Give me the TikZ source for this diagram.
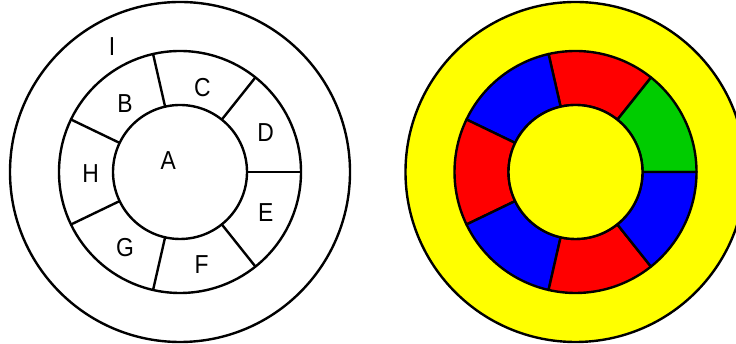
\documentclass[tikz,border=0pt]{standalone}
\usepackage{fontspec}
\setmainfont{Liberation Sans}
\usetikzlibrary{calc}
\definecolor{cgreen}{RGB}{0,204,0}
\definecolor{cred}{RGB}{255,0,0}
\definecolor{cblue}{RGB}{0,0,255}
\definecolor{cyellow}{RGB}{255,255,0}
\begin{document}
\begin{tikzpicture}[x=1pt,y=1pt,line width=2.4pt,
  lbl/.style={inner sep=0pt,font=\fontsize{26}{26}\selectfont,xscale=0.88},
  seg/.style={draw=black,line join=round}]
\useasboundingbox (0,0) rectangle (736,344);
\coordinate (L) at (180,172);
\coordinate (R) at (575.5,172);
% left figure
\draw (L) circle[radius=170pt];
\draw (L) circle[radius=121pt];
\draw (L) circle[radius=67pt];
\foreach \i in {0,...,6}{
  \draw ($(L)+(\i*360/7:67pt)$) -- ($(L)+(\i*360/7:121pt)$);
}
\node[lbl] (nA) at (168.3,183) {A};
\node[lbl] (nB) at (125,240.3) {B};
\node[lbl] (nC) at (202.3,256.5) {C};
\node[lbl] (nD) at (265.7,211) {D};
\node[lbl] (nE) at (265.7,131.2) {E};
\node[lbl] (nF) at (201.7,79.5) {F};
\node[lbl] (nG) at (125,96.5) {G};
\node[lbl] (nH) at (90.7,170) {H};
\node[lbl] (nI) at (112,297.3) {I};
% right figure
\draw[fill=cyellow] (R) circle[radius=170pt];
\foreach \i/\c in {0/cgreen,1/cred,2/cblue,3/cred,4/cblue,5/cred,6/cblue}{
  \pgfmathsetmacro{\a}{\i*360/7}
  \pgfmathsetmacro{\b}{(\i+1)*360/7}
  \draw[seg,fill=\c] ($(R)+(\a:121pt)$) arc[start angle=\a,end angle=\b,radius=121pt]
    -- ($(R)+(\b:67pt)$) arc[start angle=\b,end angle=\a,radius=67pt] -- cycle;
}
\draw[fill=cyellow] (R) circle[radius=67pt];
\end{tikzpicture}
\end{document}
